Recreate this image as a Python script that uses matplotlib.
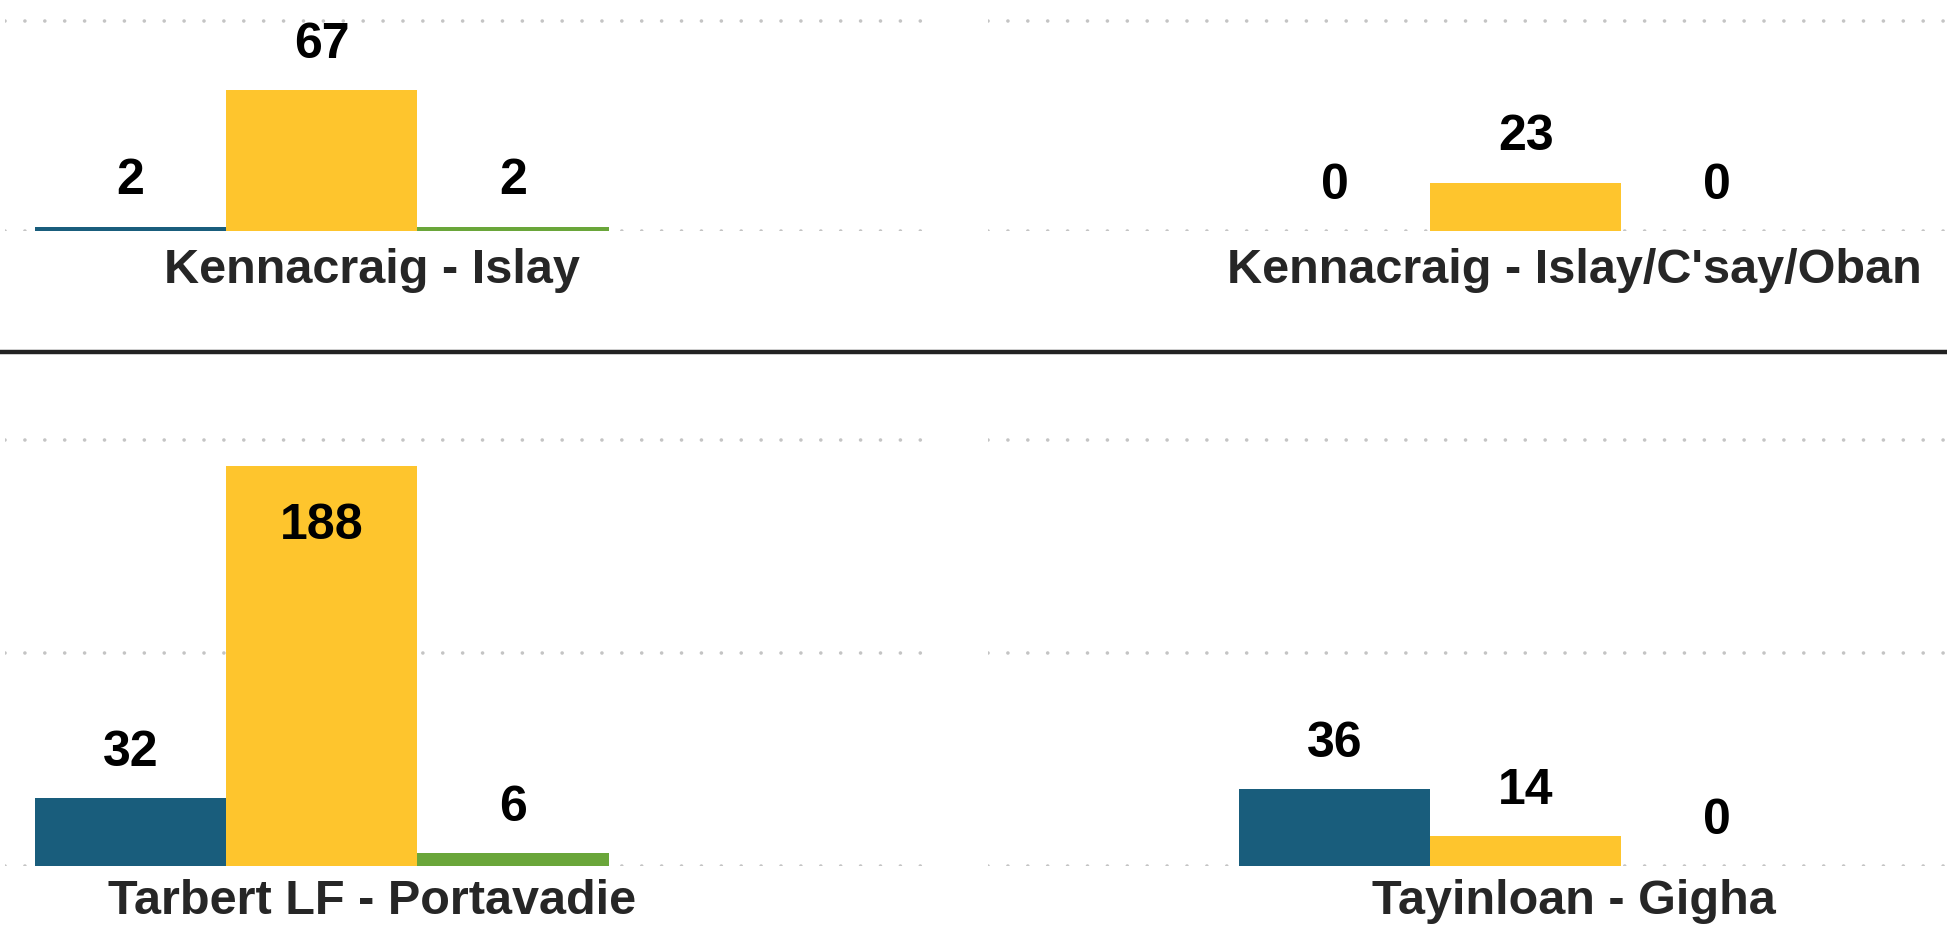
import matplotlib
matplotlib.use("Agg")
import matplotlib.pyplot as plt
from matplotlib.lines import Line2D

# DATA
routes = ["Kennacraig - Islay", "Kennacraig - Islay/C'say/Oban",
          "Tarbert LF - Portavadie", "Tayinloan - Gigha"]
blue_vals = [2, 0, 32, 36]
yellow_vals = [67, 23, 188, 14]
green_vals = [2, 0, 6, 0]
colors = ["#195d7c", "#fec52d", "#6aa63a"]

# LAYOUT (pixel based, figure is 1947x937)
W, H = 1947, 937
bar_px = 191.2
# (left px, right px, baseline px, top px, first bar left px, px per unit)
panels = [
    (5, 932, 232, 0, 35, 2.10),
    (988, 1947, 232, 0, 1239, 2.10),
    (5, 932, 867, 360, 35, 2.13),
    (988, 1947, 867, 360, 1239, 2.13),
]
label_centers = [372, 1574, 372, 1574]
label_baselines = [283, 283, 914, 914]

plt.rcParams['font.family'] = ['Liberation Sans', 'DejaVu Sans']

fig = plt.figure(figsize=(W / 100, H / 100), dpi=100)

for i, (x0, x1, base, top, bar_left, ppu) in enumerate(panels):
    ax = fig.add_axes([x0 / W, (H - base) / H, (x1 - x0) / W, (base - top) / H])
    ax.set_facecolor("none")
    vals = [blue_vals[i], yellow_vals[i], green_vals[i]]
    ax.bar([0, 1, 2], vals, width=1.0, color=colors, zorder=2)

    lo = -0.5 - (bar_left - x0) / bar_px
    ax.set_xlim(lo, lo + (x1 - x0) / bar_px)
    ax.set_ylim(0, (base - top) / ppu)

    ax.set_yticks([0, 100] if i < 2 else [0, 100, 200])
    ax.yaxis.grid(True, color="#c4c4c4", linewidth=2.6,
                  linestyle=(0, (0.01, 5.5)), dash_capstyle="round", zorder=1)
    ax.set_axisbelow(True)
    ax.set_xticks([])
    ax.tick_params(left=False, labelleft=False)
    for s in ax.spines.values():
        s.set_visible(False)

    for x, v in zip([0, 1, 2], vals):
        # tall bars get their label inside
        off = -52 if v > 150 else 24
        ax.annotate(str(v), (x, v), xytext=(0, off), textcoords="offset points",
                    ha="center", va="baseline", fontsize=36, fontweight="bold",
                    color="black", annotation_clip=False)

    fig.text(label_centers[i] / W, (H - label_baselines[i]) / H, routes[i],
             ha="center", va="baseline", fontsize=35, fontweight="bold",
             color="#262626")

# row separator
fig.add_artist(Line2D([0, 1], [(H - 352.5) / H] * 2, transform=fig.transFigure,
                      color="#222222", linewidth=3.2))

fig.savefig("out.png", dpi=100, facecolor="white")
